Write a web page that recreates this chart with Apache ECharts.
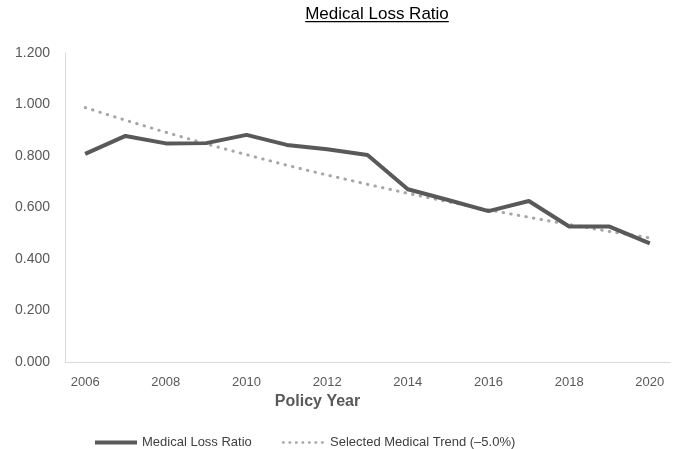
<!DOCTYPE html>
<html>
<head>
<meta charset="utf-8">
<script src="https://cdn.jsdelivr.net/npm/echarts@6/dist/echarts.min.js"></script>
<style>
  html, body { margin: 0; padding: 0; background: #fff; }
  #chart { width: 677px; height: 449px; }
</style>
</head>
<body>
<div id="chart"></div>
<script>
// Policy years on the horizontal axis
const years = ['2006','2007','2008','2009','2010','2011','2012','2013','2014','2015','2016','2017','2018','2019','2020'];
// Observed medical loss ratio per policy year
const lossRatio = [0.808, 0.878, 0.849, 0.850, 0.882, 0.843, 0.826, 0.804, 0.671, 0.629, 0.586, 0.625, 0.526, 0.526, 0.461];
// Selected medical trend line (-5.0% per year)
const selectedTrend = [0.988, 0.939, 0.892, 0.847, 0.805, 0.764, 0.726, 0.690, 0.655, 0.622, 0.591, 0.562, 0.534, 0.507, 0.482];
// Value axis range
const yMin = 0, yMax = 1.2, yStep = 0.2;

const FONT = '"Liberation Sans", Arial, sans-serif';
const TITLE = 'Medical Loss Ratio';
const TITLE_FONT = '17px ' + FONT;
const SERIES_MLR = 'Medical Loss Ratio';
const SERIES_TREND = 'Selected Medical Trend (\u20135.0%)';

// width of the title, for the underline
const ctx = document.createElement('canvas').getContext('2d');
ctx.font = TITLE_FONT;
const titleWidth = ctx.measureText(TITLE).width;

const chart = echarts.init(document.getElementById('chart'), null, { renderer: 'canvas' });

chart.setOption({
  animation: false,
  backgroundColor: '#ffffff',
  graphic: [
    {
      type: 'group',
      left: 377 - titleWidth / 2,
      top: 6,
      children: [
        { type: 'text', left: 0, top: 0,
          style: { text: TITLE, font: TITLE_FONT, fill: '#000000' } },
        { type: 'rect', left: 0, top: 15,
          shape: { width: titleWidth, height: 1.3 }, style: { fill: '#000000' } }
      ]
    }
  ],
  grid: { left: 65, right: 7, top: 53, bottom: 87, containLabel: false },
  legend: {
    left: 88,
    top: 431,
    itemWidth: 42,
    itemHeight: 14,
    itemGap: 30,
    itemStyle: { opacity: 0 },
    textStyle: { fontFamily: FONT, fontSize: 13, color: '#404040' },
    data: [
      { name: SERIES_MLR, lineStyle: { width: 4, color: '#595959' } },
      { name: SERIES_TREND, lineStyle: { width: 2.5, color: '#a6a6a6', type: [0.5, 6], cap: 'round' } }
    ]
  },
  xAxis: {
    type: 'category',
    data: years,
    boundaryGap: true,
    axisLine: { show: true, lineStyle: { color: '#d9d9d9', width: 1 } },
    axisTick: { show: false },
    axisLabel: { interval: 1, margin: 14, fontFamily: FONT, fontSize: 13, color: '#595959' },
    splitLine: { show: false },
    name: 'Policy Year',
    nameLocation: 'middle',
    nameGap: 32,
    nameTextStyle: { fontFamily: FONT, fontSize: 16, fontWeight: 'bold', color: '#595959', padding: [0, 100, 0, 0] }
  },
  yAxis: {
    type: 'value',
    min: yMin,
    max: yMax,
    interval: yStep,
    axisLine: { show: true, lineStyle: { color: '#d9d9d9', width: 1 } },
    axisTick: { show: false },
    splitLine: { show: false },
    axisLabel: {
      margin: 15,
      fontFamily: FONT,
      fontSize: 14,
      color: '#595959',
      formatter: v => v.toFixed(3)
    }
  },
  series: [
    {
      name: SERIES_MLR,
      type: 'line',
      data: lossRatio,
      symbol: 'none',
      color: '#595959',
      lineStyle: { color: '#595959', width: 4, join: 'round' },
      z: 3
    },
    {
      name: SERIES_TREND,
      type: 'line',
      data: selectedTrend,
      symbol: 'none',
      color: '#a6a6a6',
      lineStyle: { color: '#a6a6a6', width: 3, type: [0.5, 7.2], cap: 'round' },
      z: 2
    }
  ]
});
</script>
</body>
</html>
